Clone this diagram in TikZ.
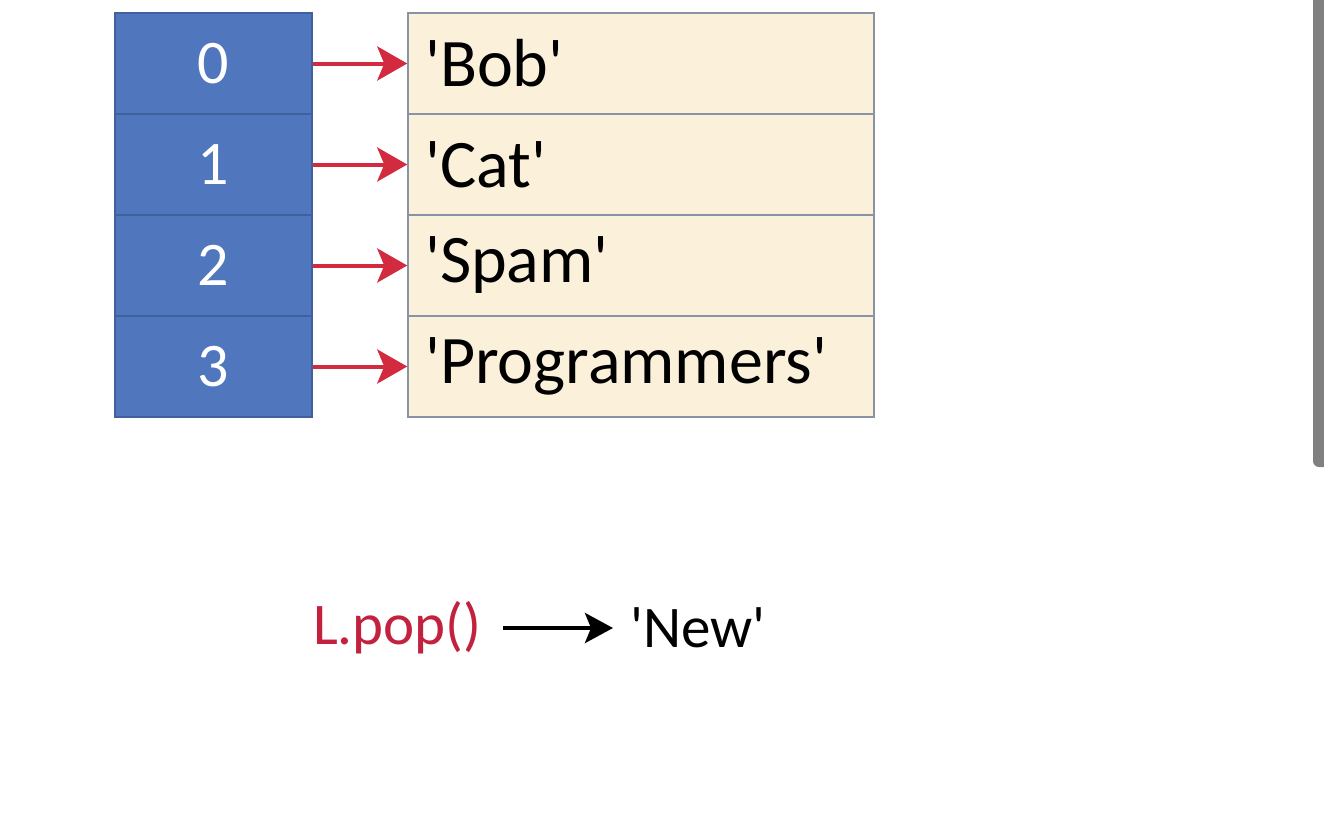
\documentclass[tikz,border=0pt]{standalone}
\usepackage{fontspec}
\newfontfamily\carl{Carlito}
\usetikzlibrary{arrows.meta}
\definecolor{idxblue}{HTML}{5076BD}
\definecolor{idxedge}{HTML}{41619E}
\definecolor{valfill}{HTML}{FBF0DA}
\definecolor{valedge}{HTML}{8A93A6}
\definecolor{ptrred}{HTML}{D22A3F}
\definecolor{popred}{HTML}{C3223F}
\definecolor{scrollgray}{HTML}{808080}
\begin{document}
\begin{tikzpicture}[x=1pt,y=-1pt,
  idx/.style={draw=idxedge, line width=1.5pt, fill=idxblue, minimum width=197pt, minimum height=101pt,
    inner sep=0pt, text=white, font=\carl\fontsize{62}{62}\selectfont},
  val/.style={draw=valedge, line width=1.5pt, fill=valfill, minimum width=466pt, minimum height=101pt,
    inner xsep=17pt, inner ysep=0pt, text width=432pt, align=left, text=black,
    font=\carl\fontsize{68}{68}\selectfont},
  ptr/.style={draw=ptrred, line width=4pt, -{Stealth[length=30pt,width=34pt,inset=7pt]}},
  blk/.style={draw=black, line width=4pt, -{Stealth[length=28pt,width=30pt,inset=6pt]}},
  lbl/.style={inner sep=0pt, font=\carl\fontsize{59}{59}\selectfont}]
\useasboundingbox[fill=white] (0,0) rectangle (1324,836);
\begin{scope}
  \clip (0,0) rectangle (1324,836);
  \fill[scrollgray, rounded corners=6pt] (1313,-10) rectangle (1336,467);
\end{scope}
\foreach \i/\t/\y in {0/'Bob'/63.5, 1/'Cat'/164.5, 2/'Spam'/265.5, 3/'Programmers'/366.5}{
  \node[idx] (i\i) at (213.5,\y) {\i};
  \node[val] (v\i) at (641,\y) {\t};
}
\foreach \i in {0,...,3}{
  \draw[ptr] (i\i.east) -- (v\i.west);
}
\node[lbl, text=popred, anchor=east] (pop) at (482,628) {L.pop()};
\node[lbl, text=black, anchor=west] (new) at (630,628) {'New'};
\draw[blk] ([xshift=21pt]pop.east) -- ([xshift=-17pt]new.west);
\end{tikzpicture}
\end{document}
